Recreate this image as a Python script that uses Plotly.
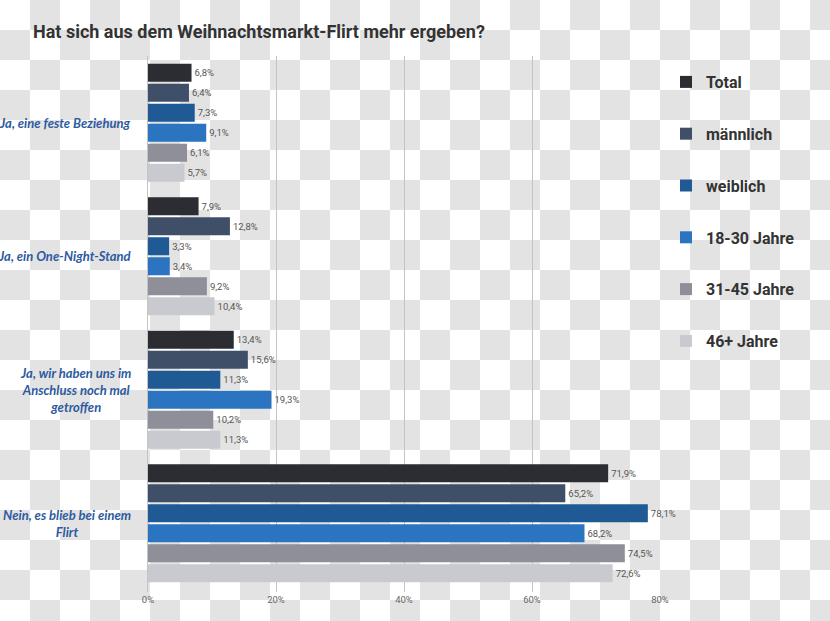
import base64
import plotly.graph_objects as go

categories = [
    "Ja, eine feste Beziehung",
    "Ja, ein One-Night-Stand",
    "Ja, wir haben uns im<br>Anschluss noch mal<br>getroffen",
    "Nein, es blieb bei einem<br>Flirt",
]
series_names = ["Total", "männlich", "weiblich", "18-30 Jahre", "31-45 Jahre", "46+ Jahre"]
total = [6.8, 7.9, 13.4, 71.9]
maennlich = [6.4, 12.8, 15.6, 65.2]
weiblich = [7.3, 3.3, 11.3, 78.1]
j18_30 = [9.1, 3.4, 19.3, 68.2]
j31_45 = [6.1, 9.2, 10.2, 74.5]
j46 = [5.7, 10.4, 11.3, 72.6]
series_values = [total, maennlich, weiblich, j18_30, j31_45, j46]
colors = ["#2b2d33", "#3f4f68", "#1f5a94", "#2a74c0", "#8e8f98", "#c9cacf"]
tick_vals = [0, 20, 40, 60, 80]
tick_text = ["0%", "20%", "40%", "60%", "80%"]

W, H = 830, 621
L, R, T, B = 148, 170, 56, 29
pw, ph = W - L - R, H - T - B
NARROW = "Roboto, Lato, sans-serif"

fig = go.Figure()
for name, vals, col in zip(series_names, series_values, colors):
    fig.add_trace(go.Bar(
        y=list(range(len(categories))), x=vals, orientation="h", name=name,
        marker=dict(color=col, line=dict(width=0)),
        texttemplate="%{x:.1f}%", textposition="outside",
        textfont=dict(family=NARROW, size=9.5, color="#555555"),
        cliponaxis=False, legendgroup=name, hoverinfo="x+name",
    ))

# checkerboard background (transparency pattern of the original image)
svg = (f'<svg xmlns="http://www.w3.org/2000/svg" width="{W}" height="{H}">'
       '<defs><pattern id="p" width="60" height="60" patternUnits="userSpaceOnUse">'
       '<rect width="60" height="60" fill="#ffffff"/>'
       '<rect x="30" y="0" width="30" height="30" fill="#e3e3e3"/>'
       '<rect x="0" y="30" width="30" height="30" fill="#e3e3e3"/>'
       '</pattern></defs>'
       f'<rect width="{W}" height="{H}" fill="url(#p)"/></svg>')
uri = "data:image/svg+xml;base64," + base64.b64encode(svg.encode()).decode()
fig.add_layout_image(dict(source=uri, xref="paper", yref="paper",
                          x=-L / pw, y=(ph + T) / ph, sizex=W / pw, sizey=H / ph,
                          sizing="stretch", xanchor="left", yanchor="top", layer="below"))

for i, c in enumerate(categories):
    fig.add_annotation(x=-15 / pw, xref="paper", y=i, yref="y", text=c, showarrow=False,
                       xanchor="right", align="center",
                       font=dict(family="Lato, Roboto, sans-serif",
                                 size=13, color="#2d5aa0", style="italic", weight="bold"))

fig.update_layout(
    width=W, height=H, margin=dict(l=L, r=R, t=T, b=B),
    paper_bgcolor="#ffffff", plot_bgcolor="rgba(0,0,0,0)",
    barmode="group", bargap=0.1, bargroupgap=0.1, separators=",.",
    title=dict(text="<b>Hat sich aus dem Weihnachtsmarkt-Flirt mehr ergeben?</b>",
               xref="container", yref="container", x=33 / W, xanchor="left",
               y=1 - 32 / H, yanchor="middle",
               font=dict(family="Roboto, sans-serif", size=18, color="#333333")),
    xaxis=dict(range=[0, 80], tickvals=tick_vals, ticktext=tick_text, showgrid=True,
               gridcolor="#c4c4c4", gridwidth=1, zeroline=False, ticks="",
               tickfont=dict(family=NARROW, size=9.5, color="#666666")),
    yaxis=dict(range=[3.5 + 2 / 133.3, -0.5], showticklabels=False, showgrid=False, zeroline=False,
               showline=True, linecolor="#c4c4c4", linewidth=1),
    legend=dict(x=(666 - L) / pw, xanchor="left", y=(ph + T - 65) / ph, yanchor="top",
                bgcolor="rgba(0,0,0,0)", tracegroupgap=28, itemclick=False,
                font=dict(family="Roboto, sans-serif", size=16, color="#333333", weight="bold")),
    showlegend=True,
)

fig.write_html("out.html")
